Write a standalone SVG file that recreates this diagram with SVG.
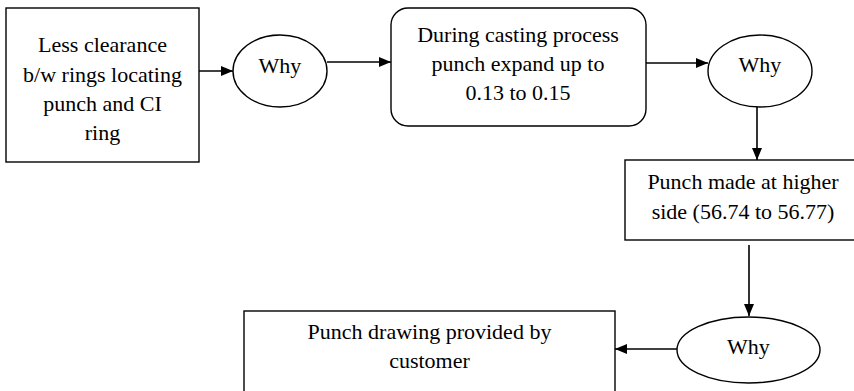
<svg xmlns="http://www.w3.org/2000/svg" width="854" height="391" viewBox="0 0 854 391">
  <style>
    .box { fill: #ffffff; stroke: #000000; stroke-width: 1.4; }
    .lbl { font-family: 'Liberation Serif', serif; font-size: 22px; fill: #000000; text-anchor: middle; }
    .conn { stroke: #000000; stroke-width: 1.6; fill: none; marker-end: url(#arrow); }
  </style>
  <defs>
    <marker id="arrow" markerUnits="userSpaceOnUse" markerWidth="12" markerHeight="10" refX="12" refY="5" orient="auto">
      <path d="M0,0 L12,5 L0,10 z" fill="#000000"/>
    </marker>
  </defs>
  <rect width="854" height="391" fill="#ffffff"/>

  <g id="connectors">
    <line class="conn" x1="199" y1="71" x2="233" y2="71"/>
    <line class="conn" x1="327" y1="62" x2="391" y2="62"/>
    <line class="conn" x1="646" y1="63" x2="708" y2="63"/>
    <line class="conn" x1="757" y1="107" x2="757" y2="160"/>
    <line class="conn" x1="749" y1="245" x2="749" y2="316"/>
    <line class="conn" x1="677" y1="349" x2="615" y2="349"/>
  </g>

  <g id="node-less-clearance">
    <rect class="box" x="6" y="8" width="193" height="154"/>
    <text class="lbl" font-family="Liberation Serif, serif" x="102.5" y="52">Less clearance</text>
    <text class="lbl" font-family="Liberation Serif, serif" x="102.5" y="82">b/w rings locating</text>
    <text class="lbl" font-family="Liberation Serif, serif" x="102.5" y="111">punch and CI</text>
    <text class="lbl" font-family="Liberation Serif, serif" x="102.5" y="140">ring</text>
  </g>

  <g id="node-why-1">
    <ellipse class="box" cx="280" cy="71" rx="47" ry="36"/>
    <text class="lbl" font-family="Liberation Serif, serif" x="280" y="73">Why</text>
  </g>

  <g id="node-casting">
    <rect class="box" x="391" y="8" width="255" height="118" rx="17" ry="17"/>
    <text class="lbl" font-family="Liberation Serif, serif" x="518" y="42">During casting process</text>
    <text class="lbl" font-family="Liberation Serif, serif" x="518" y="71">punch expand up to</text>
    <text class="lbl" font-family="Liberation Serif, serif" x="518" y="100">0.13 to 0.15</text>
  </g>

  <g id="node-why-2">
    <ellipse class="box" cx="760" cy="71" rx="52" ry="36"/>
    <text class="lbl" font-family="Liberation Serif, serif" x="760" y="72">Why</text>
  </g>

  <g id="node-punch-made">
    <rect class="box" x="625" y="160" width="240" height="80"/>
    <text class="lbl" font-family="Liberation Serif, serif" x="743" y="189">Punch made at higher</text>
    <text class="lbl" font-family="Liberation Serif, serif" x="743" y="219">side (56.74 to 56.77)</text>
  </g>

  <g id="node-why-3">
    <ellipse class="box" cx="748.5" cy="350" rx="71.5" ry="33"/>
    <text class="lbl" font-family="Liberation Serif, serif" x="748.5" y="354">Why</text>
  </g>

  <g id="node-drawing">
    <rect class="box" x="244" y="311" width="371" height="95"/>
    <text class="lbl" font-family="Liberation Serif, serif" x="429.5" y="339">Punch drawing provided by</text>
    <text class="lbl" font-family="Liberation Serif, serif" x="429.5" y="368">customer</text>
  </g>
</svg>
